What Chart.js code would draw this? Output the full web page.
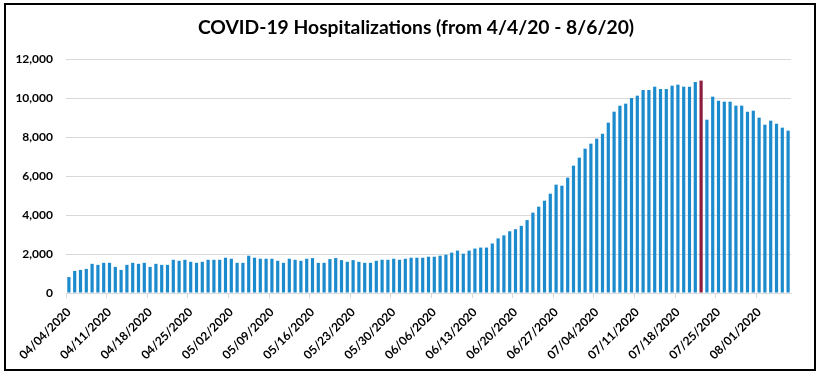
<!DOCTYPE html>
<html><head><meta charset="utf-8">
<script src="https://cdn.jsdelivr.net/npm/chart.js@4"></script>
<style>html,body{margin:0;padding:0;background:#fff}#wrap{position:relative;width:821px;height:374px}</style>
</head><body><div id="wrap"><canvas id="c" width="821" height="374"></canvas></div>
<script>
const chartTitle = 'COVID-19 Hospitalizations (from 4/4/20 - 8/6/20)';
const categories = [
'04/04/2020','04/05/2020','04/06/2020','04/07/2020','04/08/2020','04/09/2020','04/10/2020','04/11/2020','04/12/2020','04/13/2020',
'04/14/2020','04/15/2020','04/16/2020','04/17/2020','04/18/2020','04/19/2020','04/20/2020','04/21/2020','04/22/2020','04/23/2020',
'04/24/2020','04/25/2020','04/26/2020','04/27/2020','04/28/2020','04/29/2020','04/30/2020',
'05/01/2020','05/02/2020','05/03/2020','05/04/2020','05/05/2020','05/06/2020','05/07/2020','05/08/2020','05/09/2020','05/10/2020',
'05/11/2020','05/12/2020','05/13/2020','05/14/2020','05/15/2020','05/16/2020','05/17/2020','05/18/2020','05/19/2020','05/20/2020',
'05/21/2020','05/22/2020','05/23/2020','05/24/2020','05/25/2020','05/26/2020','05/27/2020','05/28/2020','05/29/2020','05/30/2020','05/31/2020',
'06/01/2020','06/02/2020','06/03/2020','06/04/2020','06/05/2020','06/06/2020','06/07/2020','06/08/2020','06/09/2020','06/10/2020',
'06/11/2020','06/12/2020','06/13/2020','06/14/2020','06/15/2020','06/16/2020','06/17/2020','06/18/2020','06/19/2020','06/20/2020',
'06/21/2020','06/22/2020','06/23/2020','06/24/2020','06/25/2020','06/26/2020','06/27/2020','06/28/2020','06/29/2020','06/30/2020',
'07/01/2020','07/02/2020','07/03/2020','07/04/2020','07/05/2020','07/06/2020','07/07/2020','07/08/2020','07/09/2020','07/10/2020',
'07/11/2020','07/12/2020','07/13/2020','07/14/2020','07/15/2020','07/16/2020','07/17/2020','07/18/2020','07/19/2020','07/20/2020',
'07/21/2020','07/22/2020','07/23/2020','07/24/2020','07/25/2020','07/26/2020','07/27/2020','07/28/2020','07/29/2020','07/30/2020','07/31/2020',
'08/01/2020','08/02/2020','08/03/2020','08/04/2020','08/05/2020','08/06/2020'
];
const hospitalizations = [
817,1130,1183,1235,1496,1443,1548,1548,1339,1183,
1443,1548,1496,1548,1339,1496,1443,1443,1704,1652,
1704,1600,1548,1600,1704,1704,1704,
1809,1757,1548,1548,1913,1809,1757,1757,1757,1652,
1548,1757,1704,1652,1757,1791,1548,1548,1739,1791,
1687,1600,1687,1600,1548,1548,1652,1704,1704,1757,1704,
1757,1809,1809,1809,1861,1861,1913,1965,2070,2174,
2017,2174,2278,2330,2330,2539,2800,2957,3165,3270,
3443,3739,4120,4427,4735,5094,5556,5504,5915,6530,
6940,7402,7658,7915,8171,8735,9299,9607,9709,10000,
10120,10410,10410,10581,10462,10462,10632,10684,10581,10581,
10821,10893,8889,10068,9863,9812,9812,9607,9607,9299,9350,
8991,8632,8838,8684,8479,8325
];
const yTickValues = [0, 2000, 4000, 6000, 8000, 10000, 12000];
const tickLabels = ['04/04/2020','04/11/2020','04/18/2020','04/25/2020','05/02/2020','05/09/2020','05/16/2020','05/23/2020','05/30/2020','06/06/2020','06/13/2020','06/20/2020','06/27/2020','07/04/2020','07/11/2020','07/18/2020','07/25/2020','08/01/2020'];
const highlightDate = '07/22/2020';

const FONT = 'Lato';
const framePlugin = {
  id: 'frame',
  afterDraw(chart) {
    const ctx = chart.ctx;
    ctx.save();
    ctx.fillStyle = '#000';
    ctx.font = 'bold 19.3px ' + FONT;
    ctx.textAlign = 'center';
    ctx.textBaseline = 'middle';
    ctx.fillText(chartTitle, 416, 28);
    ctx.strokeStyle = '#000';
    ctx.lineWidth = 2;
    ctx.strokeRect(5, 4, 810, 366);
    ctx.restore();
  }
};

new Chart(document.getElementById('c'), {
  type: 'bar',
  data: {
    labels: categories,
    datasets: [{
      data: hospitalizations,
      backgroundColor: ctx => categories[ctx.dataIndex] === highlightDate ? '#8c1d40' : '#1b8bcd',
      borderWidth: 0,
      barPercentage: 0.55,
      categoryPercentage: 1
    }]
  },
  options: {
    responsive: false,
    devicePixelRatio: 1,
    animation: false,
    layout: { padding: { left: 0, right: 30, top: 59, bottom: 0 } },
    plugins: {
      legend: { display: false },
      tooltip: { enabled: false },
      title: { display: false }
    },
    scales: {
      x: {
        grid: {
          offset: true,
          drawOnChartArea: false,
          drawTicks: true,
          tickLength: 5,
          color: ctx => (ctx.index !== undefined && tickLabels.includes(categories[ctx.index])) ? '#d9d9d9' : 'rgba(0,0,0,0)'
        },
        border: { color: '#d9d9d9' },
        ticks: {
          autoSkip: false,
          minRotation: 45,
          maxRotation: 45,
          padding: 7,
          color: '#000',
          font: { family: FONT, size: 12, weight: 'bold' },
          callback: (v, i) => tickLabels.includes(categories[i]) ? categories[i] : ''
        },
        afterFit: s => { s.height = 81; }
      },
      y: {
        min: 0,
        max: 12000,
        afterBuildTicks: s => { s.ticks = yTickValues.map(v => ({ value: v })); },
        grid: { color: '#d9d9d9', drawTicks: false },
        border: { display: false },
        ticks: {
          color: '#000',
          padding: 13,
          font: { family: FONT, size: 12, weight: 'bold' },
          callback: v => v.toLocaleString('en-US')
        },
        afterFit: s => { s.width = 66; }
      }
    }
  },
  plugins: [framePlugin]
});
</script>
</body></html>
